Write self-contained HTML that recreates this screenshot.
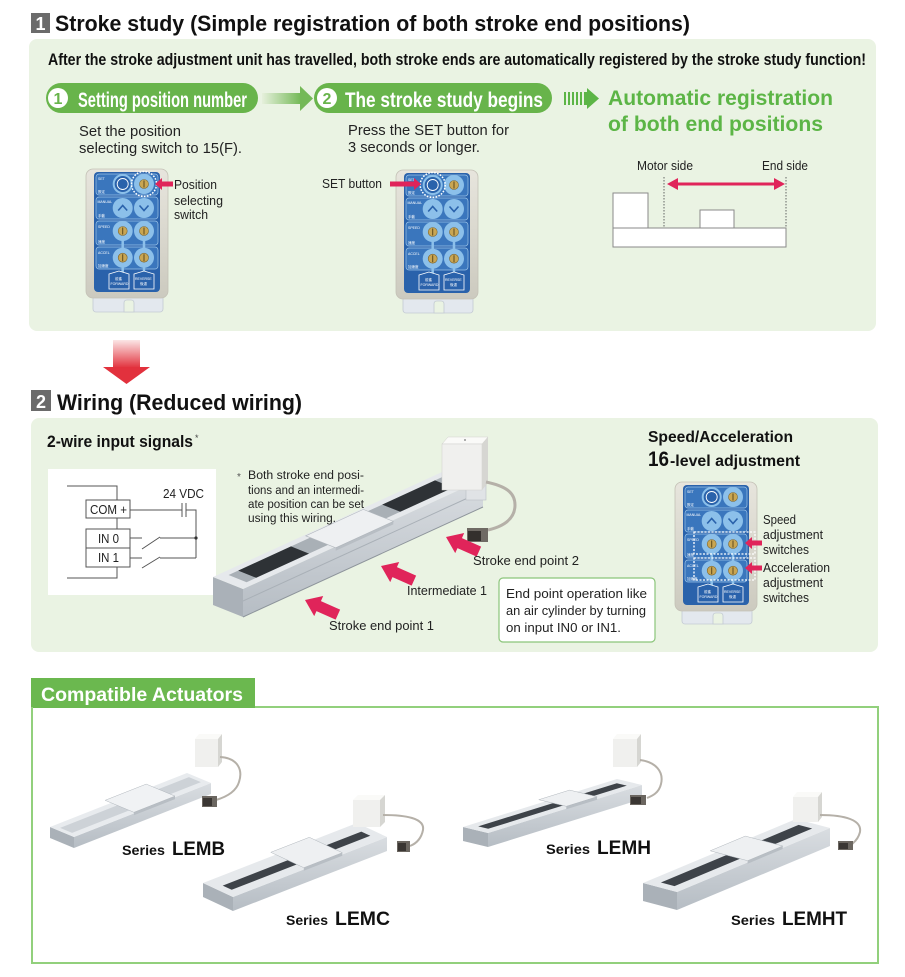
<!DOCTYPE html>
<html><head><meta charset="utf-8"><style>
html,body{margin:0;padding:0;background:#fff;}
svg{display:block;}
text{font-family:"Liberation Sans","Noto Sans CJK JP",Arial,sans-serif;}
</style></head><body>
<svg width="905" height="977" viewBox="0 0 905 977" xmlns="http://www.w3.org/2000/svg">
<defs>
<linearGradient id="bodyG" x1="0" y1="0" x2="0" y2="1"><stop offset="0" stop-color="#e7e5dd"/><stop offset="1" stop-color="#cccabf"/></linearGradient>
<linearGradient id="arrG" x1="0" y1="0" x2="1" y2="0"><stop offset="0" stop-color="#e6f0dc"/><stop offset="1" stop-color="#74b957"/></linearGradient>
<linearGradient id="downG" x1="0" y1="0" x2="0" y2="1"><stop offset="0" stop-color="#fbe6e6"/><stop offset="1" stop-color="#e2313d"/></linearGradient>
<linearGradient id="metF" x1="0" y1="0" x2="0" y2="1"><stop offset="0" stop-color="#d9dde1"/><stop offset="1" stop-color="#b6bdc4"/></linearGradient>
</defs>

<!-- ===== Section 1 ===== -->
<rect x="31" y="13" width="19" height="20" fill="#6b6b6b"/>
<text x="40.5" y="30" font-size="18" font-weight="bold" fill="#fff" text-anchor="middle">1</text>
<text x="55" y="31" font-size="22" font-weight="bold" fill="#111" textLength="635" lengthAdjust="spacingAndGlyphs">Stroke study (Simple registration of both stroke end positions)</text>

<rect x="29" y="39" width="847" height="292" rx="8" fill="#eaf3e3"/>
<text x="48" y="65" font-size="17" font-weight="bold" fill="#111" textLength="818" lengthAdjust="spacingAndGlyphs">After the stroke adjustment unit has travelled, both stroke ends are automatically registered by the stroke study function!</text>

<!-- pill 1 -->
<rect x="46" y="83" width="212" height="30" rx="15" fill="#68b44b"/>
<circle cx="58" cy="98" r="10" fill="#fff"/>
<text x="58" y="104" font-size="16" font-weight="bold" fill="#68b44b" text-anchor="middle">1</text>
<text x="78" y="107" font-size="21" font-weight="bold" fill="#fff" textLength="169" lengthAdjust="spacingAndGlyphs">Setting position number</text>
<rect x="262" y="93" width="39" height="11" fill="url(#arrG)"/>
<polygon points="300,86 313,98.5 300,111" fill="#74b957"/>
<!-- pill 2 -->
<rect x="314" y="83" width="238" height="30" rx="15" fill="#68b44b"/>
<circle cx="327" cy="98" r="10" fill="#fff"/>
<text x="327" y="104" font-size="16" font-weight="bold" fill="#68b44b" text-anchor="middle">2</text>
<text x="345" y="107" font-size="21" font-weight="bold" fill="#fff" textLength="198" lengthAdjust="spacingAndGlyphs">The stroke study begins</text>
<g fill="#5cb546">
<rect x="564" y="92" width="2" height="13"/><rect x="568" y="92" width="2" height="13"/><rect x="572" y="92" width="2" height="13"/><rect x="576" y="92" width="2" height="13"/><rect x="580" y="92" width="2" height="13"/><rect x="584" y="92" width="3" height="13"/>
<polygon points="587,88 599,98.5 587,109"/>
</g>
<text x="608" y="105" font-size="21" font-weight="bold" fill="#5cb546" textLength="225" lengthAdjust="spacingAndGlyphs">Automatic registration</text>
<text x="608" y="131" font-size="21" font-weight="bold" fill="#5cb546" textLength="215" lengthAdjust="spacingAndGlyphs">of both end positions</text>

<text x="79" y="136" font-size="15" fill="#222" textLength="102" lengthAdjust="spacingAndGlyphs">Set the position</text>
<text x="79" y="153" font-size="15" fill="#222" textLength="163" lengthAdjust="spacingAndGlyphs">selecting switch to 15(F).</text>
<text x="348" y="135" font-size="15" fill="#222" textLength="161" lengthAdjust="spacingAndGlyphs">Press the SET button for</text>
<text x="348" y="152" font-size="15" fill="#222" textLength="132" lengthAdjust="spacingAndGlyphs">3 seconds or longer.</text>

<!-- Controller 1 -->
<g transform="translate(85,168)">
 <rect x="8" y="124" width="70" height="20" rx="3" fill="#e3e8ee" stroke="#c3cad3" stroke-width="0.8"/>
 <path d="M39 144 V135 Q39 132 42 132 H46 Q49 132 49 135 V144 Z" fill="#eaf3e3" stroke="#c3cad3" stroke-width="0.8"/>
 <rect x="1" y="1" width="82" height="129" rx="7" fill="url(#bodyG)" stroke="#c4c1b6" stroke-width="0.8"/>
 <rect x="9" y="4" width="66" height="120" rx="4" fill="#2a62ab"/>
 <g fill="#3a76bd" stroke="#9cc4e8" stroke-width="0.7">
  <rect x="11" y="6" width="62" height="21" rx="3"/><rect x="11" y="29" width="62" height="22" rx="3"/><rect x="11" y="53" width="62" height="24" rx="3"/><rect x="11" y="79" width="62" height="22" rx="3"/>
 </g>
 <path d="M37.7 63 V110 M59 63 V110" stroke="#8cc0ea" stroke-width="2.5"/>
 <circle cx="37.7" cy="16" r="10" fill="#8cc0ea"/><circle cx="37.7" cy="16" r="8" fill="#2a62ab"/><circle cx="37.7" cy="16" r="5.5" fill="none" stroke="#fff" stroke-width="0.9"/>
 <g fill="#8cc0ea"><circle cx="59" cy="16" r="10"/><circle cx="37.7" cy="40" r="10"/><circle cx="59" cy="40" r="10"/><circle cx="37.7" cy="63" r="10"/><circle cx="59" cy="63" r="10"/><circle cx="37.7" cy="89.7" r="10"/><circle cx="59" cy="89.7" r="10"/></g>
 <g fill="#c9a653" stroke="#7d6631" stroke-width="0.6"><circle cx="59" cy="16" r="4.5"/><circle cx="37.7" cy="63" r="4.5"/><circle cx="59" cy="63" r="4.5"/><circle cx="37.7" cy="89.7" r="4.5"/><circle cx="59" cy="89.7" r="4.5"/></g>
 <path d="M59 12.5V19.5 M37.7 59.5V66.5 M59 59.5V66.5 M37.7 86.2V93.2 M59 86.2V93.2" stroke="#5e4a1c" stroke-width="1"/>
 <path d="M33.2 42.5 L37.7 37.5 L42.2 42.5 M54.5 37.5 L59 42.5 L63.5 37.5" stroke="#2a62ab" stroke-width="1.6" fill="none"/>
 <path d="M24 106 L34 103 L44 106 V121 H24 Z M49 106 L59 103 L69 106 V121 H49 Z" fill="#2a62ab" stroke="#fff" stroke-width="0.8"/>
 <g font-size="3.5" fill="#fff">
  <text x="13" y="12">SET</text><text x="13" y="25">設定</text><text x="12.5" y="35">MANUAL</text><text x="13" y="49">手動</text><text x="13" y="60">SPEED</text><text x="13" y="75">速度</text><text x="13" y="86">ACCEL</text><text x="13" y="99">加速度</text>
  <text x="30" y="112">前進</text><text x="25.5" y="117">FORWARD</text><text x="50" y="112">REVERSE</text><text x="55" y="117">後退</text>
 </g>
</g>
<circle cx="144" cy="184" r="12.5" fill="none" stroke="#fff" stroke-width="1.5" stroke-dasharray="1.6 1.4"/>
<polygon points="155,184 162,178 162,181.5 173,181.5 173,186.5 162,186.5 162,190" fill="#e0245a"/>
<text x="174" y="189" font-size="12.5" fill="#222" textLength="43" lengthAdjust="spacingAndGlyphs">Position</text>
<text x="174" y="205" font-size="12.5" fill="#222" textLength="49" lengthAdjust="spacingAndGlyphs">selecting</text>
<text x="174" y="219" font-size="12.5" fill="#222" textLength="34" lengthAdjust="spacingAndGlyphs">switch</text>

<!-- Controller 2 -->
<g transform="translate(395,169)">
 <rect x="8" y="124" width="70" height="20" rx="3" fill="#e3e8ee" stroke="#c3cad3" stroke-width="0.8"/>
 <path d="M39 144 V135 Q39 132 42 132 H46 Q49 132 49 135 V144 Z" fill="#eaf3e3" stroke="#c3cad3" stroke-width="0.8"/>
 <rect x="1" y="1" width="82" height="129" rx="7" fill="url(#bodyG)" stroke="#c4c1b6" stroke-width="0.8"/>
 <rect x="9" y="4" width="66" height="120" rx="4" fill="#2a62ab"/>
 <g fill="#3a76bd" stroke="#9cc4e8" stroke-width="0.7">
  <rect x="11" y="6" width="62" height="21" rx="3"/><rect x="11" y="29" width="62" height="22" rx="3"/><rect x="11" y="53" width="62" height="24" rx="3"/><rect x="11" y="79" width="62" height="22" rx="3"/>
 </g>
 <path d="M37.7 63 V110 M59 63 V110" stroke="#8cc0ea" stroke-width="2.5"/>
 <circle cx="37.7" cy="16" r="10" fill="#8cc0ea"/><circle cx="37.7" cy="16" r="8" fill="#2a62ab"/><circle cx="37.7" cy="16" r="5.5" fill="none" stroke="#fff" stroke-width="0.9"/>
 <g fill="#8cc0ea"><circle cx="59" cy="16" r="10"/><circle cx="37.7" cy="40" r="10"/><circle cx="59" cy="40" r="10"/><circle cx="37.7" cy="63" r="10"/><circle cx="59" cy="63" r="10"/><circle cx="37.7" cy="89.7" r="10"/><circle cx="59" cy="89.7" r="10"/></g>
 <g fill="#c9a653" stroke="#7d6631" stroke-width="0.6"><circle cx="59" cy="16" r="4.5"/><circle cx="37.7" cy="63" r="4.5"/><circle cx="59" cy="63" r="4.5"/><circle cx="37.7" cy="89.7" r="4.5"/><circle cx="59" cy="89.7" r="4.5"/></g>
 <path d="M59 12.5V19.5 M37.7 59.5V66.5 M59 59.5V66.5 M37.7 86.2V93.2 M59 86.2V93.2" stroke="#5e4a1c" stroke-width="1"/>
 <path d="M33.2 42.5 L37.7 37.5 L42.2 42.5 M54.5 37.5 L59 42.5 L63.5 37.5" stroke="#2a62ab" stroke-width="1.6" fill="none"/>
 <path d="M24 106 L34 103 L44 106 V121 H24 Z M49 106 L59 103 L69 106 V121 H49 Z" fill="#2a62ab" stroke="#fff" stroke-width="0.8"/>
 <g font-size="3.5" fill="#fff">
  <text x="13" y="12">SET</text><text x="13" y="25">設定</text><text x="12.5" y="35">MANUAL</text><text x="13" y="49">手動</text><text x="13" y="60">SPEED</text><text x="13" y="75">速度</text><text x="13" y="86">ACCEL</text><text x="13" y="99">加速度</text>
  <text x="30" y="112">前進</text><text x="25.5" y="117">FORWARD</text><text x="50" y="112">REVERSE</text><text x="55" y="117">後退</text>
 </g>
</g>
<circle cx="432.7" cy="185" r="12.5" fill="none" stroke="#fff" stroke-width="1.5" stroke-dasharray="1.6 1.4"/>
<polygon points="421,184 414,178 414,181.5 390,181.5 390,186.5 414,186.5 414,190" fill="#e0245a"/>
<text x="322" y="188" font-size="13" fill="#222" textLength="60" lengthAdjust="spacingAndGlyphs">SET button</text>

<!-- stroke diagram -->
<text x="637" y="170" font-size="12.5" fill="#222" textLength="56" lengthAdjust="spacingAndGlyphs">Motor side</text>
<text x="762" y="170" font-size="12.5" fill="#222" textLength="46" lengthAdjust="spacingAndGlyphs">End side</text>
<path d="M664 177 V228 M786 177 V228" stroke="#555" stroke-width="0.9" stroke-dasharray="1.5 1.5"/>
<line x1="674" y1="184" x2="778" y2="184" stroke="#e0245a" stroke-width="3"/>
<polygon points="667,184 678,178 678,190" fill="#e0245a"/>
<polygon points="785,184 774,178 774,190" fill="#e0245a"/>
<g fill="#fff" stroke="#8a8a8a" stroke-width="1">
<rect x="613" y="193" width="35" height="35"/>
<rect x="700" y="210" width="34" height="18"/>
<rect x="613" y="228" width="173" height="19"/>
</g>

<!-- big down arrow -->
<rect x="113" y="340" width="27" height="28" fill="url(#downG)"/>
<polygon points="103,367 150,367 126.5,384" fill="#e2313d"/>

<!-- ===== Section 2 ===== -->
<rect x="31" y="390" width="20" height="21" fill="#6b6b6b"/>
<text x="41" y="408" font-size="18" font-weight="bold" fill="#fff" text-anchor="middle">2</text>
<text x="57" y="410" font-size="22" font-weight="bold" fill="#111" textLength="245" lengthAdjust="spacingAndGlyphs">Wiring (Reduced wiring)</text>

<rect x="31" y="418" width="847" height="234" rx="8" fill="#eaf3e3"/>
<text x="47" y="447" font-size="17" font-weight="bold" fill="#111" textLength="146" lengthAdjust="spacingAndGlyphs">2-wire input signals</text>
<text x="195" y="441" font-size="9" fill="#444">*</text>

<rect x="48" y="469" width="168" height="126" fill="#fff"/>
<g stroke="#555" stroke-width="1" fill="none">
<path d="M67 486 H117 V500 M117 518 V529 M117 567 V578 H67"/>
<rect x="86" y="500" width="44" height="18" fill="#fff"/>
<rect x="86" y="529" width="44" height="19" fill="#fff"/>
<rect x="86" y="548" width="44" height="19" fill="#fff"/>
<path d="M130 510 H182 M182 503 V517 M186 503 V517 M186 510 H196 V558"/>
<path d="M130 538 H142 M142 549 L160 537 M160 538 H196"/>
<path d="M130 558 H142 M142 568 L160 557 M160 558 H196"/>
</g>
<circle cx="196" cy="538" r="1.6" fill="#333"/>
<text x="90" y="514" font-size="13" fill="#222" textLength="37" lengthAdjust="spacingAndGlyphs">COM +</text>
<text x="98" y="543" font-size="13" fill="#222" textLength="21" lengthAdjust="spacingAndGlyphs">IN 0</text>
<text x="98" y="562" font-size="13" fill="#222" textLength="21" lengthAdjust="spacingAndGlyphs">IN 1</text>
<text x="163" y="498" font-size="13" fill="#222" textLength="41" lengthAdjust="spacingAndGlyphs">24 VDC</text>

<!-- big actuator -->
<g>
<path d="M213 577 L243 589 L243 617 L213 605 Z" fill="#aab1b8"/>
<path d="M243 589 L483 479 L483 507 L243 617 Z" fill="url(#metF)"/>
<path d="M213 577 L453 467 L483 479 L243 589 Z" fill="#e6e9ec"/>
<path d="M246.6 582.2 L467.4 481 L449.4 473.8 L228.6 575 Z" fill="#a9b0b6"/>
<path d="M256.2 577.8 L309 553.6 L291 546.4 L238.2 570.6 Z" fill="#2e3236"/>
<path d="M400.2 511.8 L453 487.6 L435 480.4 L382.2 504.6 Z" fill="#2e3236"/>
<path d="M335.7 547.8 L393.3 521.4 L393.3 524.4 L335.7 550.8 Z" fill="#b8bec4"/>
<path d="M335.7 547.8 L393.3 521.4 L363.3 509.4 L305.7 535.8 Z" fill="#eef0f2" stroke="#b0b6bc" stroke-width="0.6"/>
<path d="M243 601 L483 491" stroke="#a9b0b7" stroke-width="1"/>
<path d="M243 617 L483 507" stroke="#8d949b" stroke-width="1"/>
<rect x="466" y="484" width="20" height="16" fill="#e0e3e6" stroke="#b9bec3" stroke-width="0.6"/>
<path d="M442 444 L448 437 L488 437 L482 444 Z" fill="#fafaf8" stroke="#d0d0cc" stroke-width="0.5"/>
<rect x="442" y="444" width="40" height="46" fill="#f0f0ee" stroke="#d0d0cc" stroke-width="0.5"/>
<path d="M482 444 L488 437 L488 483 L482 490 Z" fill="#d6d6d2"/>
<circle cx="465" cy="440" r="0.9" fill="#777"/>
<path d="M486 482 C505 486 515 492 515 505 C515 518 505 526 488 530" stroke="#b5b0a8" stroke-width="3" fill="none"/>
<rect x="467" y="528" width="21" height="14" fill="#6f6a64"/>
<rect x="468" y="531" width="13" height="10" fill="#34302d"/>
</g>

<text x="237" y="480" font-size="10" fill="#555">*</text>
<text x="248" y="479" font-size="11.5" fill="#222" textLength="116" lengthAdjust="spacingAndGlyphs">Both stroke end posi-</text>
<text x="248" y="494" font-size="11.5" fill="#222" textLength="116" lengthAdjust="spacingAndGlyphs">tions and an intermedi-</text>
<text x="248" y="508" font-size="11.5" fill="#222" textLength="116" lengthAdjust="spacingAndGlyphs">ate position can be set</text>
<text x="248" y="522" font-size="11.5" fill="#222" textLength="88" lengthAdjust="spacingAndGlyphs">using this wiring.</text>

<g fill="#e0245a">
<path transform="translate(305,600) rotate(24)" d="M0 0 L15 -11 L15 -5.5 L36 -5.5 L36 5.5 L15 5.5 L15 11 Z"/>
<path transform="translate(381,566) rotate(24)" d="M0 0 L15 -11 L15 -5.5 L36 -5.5 L36 5.5 L15 5.5 L15 11 Z"/>
<path transform="translate(446,537) rotate(24)" d="M0 0 L15 -11 L15 -5.5 L36 -5.5 L36 5.5 L15 5.5 L15 11 Z"/>
</g>
<text x="473" y="565" font-size="13" fill="#222" textLength="106" lengthAdjust="spacingAndGlyphs">Stroke end point 2</text>
<text x="407" y="595" font-size="13" fill="#222" textLength="80" lengthAdjust="spacingAndGlyphs">Intermediate 1</text>
<text x="329" y="630" font-size="13" fill="#222" textLength="105" lengthAdjust="spacingAndGlyphs">Stroke end point 1</text>

<rect x="499" y="578" width="156" height="64" rx="4" fill="#fff" stroke="#8bc57a" stroke-width="1.2"/>
<text x="506" y="598" font-size="13" fill="#222" textLength="141" lengthAdjust="spacingAndGlyphs">End point operation like</text>
<text x="506" y="615" font-size="13" fill="#222" textLength="140" lengthAdjust="spacingAndGlyphs">an air cylinder by turning</text>
<text x="506" y="632" font-size="13" fill="#222" textLength="115" lengthAdjust="spacingAndGlyphs">on input IN0 or IN1.</text>

<text x="648" y="442" font-size="15.5" font-weight="bold" fill="#111" textLength="145" lengthAdjust="spacingAndGlyphs">Speed/Acceleration</text>
<text x="648" y="466" font-size="21" font-weight="bold" fill="#111" textLength="21" lengthAdjust="spacingAndGlyphs">16</text>
<text x="670" y="466" font-size="16" font-weight="bold" fill="#111" textLength="130" lengthAdjust="spacingAndGlyphs">-level adjustment</text>

<!-- Controller 3 -->
<g transform="translate(674,481)">
 <rect x="8" y="124" width="70" height="19" rx="3" fill="#e3e8ee" stroke="#c3cad3" stroke-width="0.8"/>
 <path d="M39 143 V135 Q39 132 42 132 H46 Q49 132 49 135 V143 Z" fill="#eaf3e3" stroke="#c3cad3" stroke-width="0.8"/>
 <rect x="1" y="1" width="82" height="129" rx="7" fill="url(#bodyG)" stroke="#c4c1b6" stroke-width="0.8"/>
 <rect x="9" y="4" width="66" height="120" rx="4" fill="#2a62ab"/>
 <g fill="#3a76bd" stroke="#9cc4e8" stroke-width="0.7">
  <rect x="11" y="6" width="62" height="21" rx="3"/><rect x="11" y="29" width="62" height="22" rx="3"/><rect x="11" y="53" width="62" height="24" rx="3"/><rect x="11" y="79" width="62" height="22" rx="3"/>
 </g>
 <path d="M37.7 63 V110 M59 63 V110" stroke="#8cc0ea" stroke-width="2.5"/>
 <circle cx="37.7" cy="16" r="10" fill="#8cc0ea"/><circle cx="37.7" cy="16" r="8" fill="#2a62ab"/><circle cx="37.7" cy="16" r="5.5" fill="none" stroke="#fff" stroke-width="0.9"/>
 <g fill="#8cc0ea"><circle cx="59" cy="16" r="10"/><circle cx="37.7" cy="40" r="10"/><circle cx="59" cy="40" r="10"/><circle cx="37.7" cy="63" r="10"/><circle cx="59" cy="63" r="10"/><circle cx="37.7" cy="89.7" r="10"/><circle cx="59" cy="89.7" r="10"/></g>
 <g fill="#c9a653" stroke="#7d6631" stroke-width="0.6"><circle cx="59" cy="16" r="4.5"/><circle cx="37.7" cy="63" r="4.5"/><circle cx="59" cy="63" r="4.5"/><circle cx="37.7" cy="89.7" r="4.5"/><circle cx="59" cy="89.7" r="4.5"/></g>
 <path d="M59 12.5V19.5 M37.7 59.5V66.5 M59 59.5V66.5 M37.7 86.2V93.2 M59 86.2V93.2" stroke="#5e4a1c" stroke-width="1"/>
 <path d="M33.2 42.5 L37.7 37.5 L42.2 42.5 M54.5 37.5 L59 42.5 L63.5 37.5" stroke="#2a62ab" stroke-width="1.6" fill="none"/>
 <path d="M24 106 L34 103 L44 106 V121 H24 Z M49 106 L59 103 L69 106 V121 H49 Z" fill="#2a62ab" stroke="#fff" stroke-width="0.8"/>
 <g font-size="3.5" fill="#fff">
  <text x="13" y="12">SET</text><text x="13" y="25">設定</text><text x="12.5" y="35">MANUAL</text><text x="13" y="49">手動</text><text x="13" y="60">SPEED</text><text x="13" y="75">速度</text><text x="13" y="86">ACCEL</text><text x="13" y="99">加速度</text>
  <text x="30" y="112">前進</text><text x="25.5" y="117">FORWARD</text><text x="50" y="112">REVERSE</text><text x="55" y="117">後退</text>
 </g>
</g>
<g fill="none" stroke="#fff" stroke-width="1.3" stroke-dasharray="2 1.5">
<rect x="694" y="532" width="61" height="22"/>
<rect x="694" y="558" width="61" height="22"/>
</g>
<polygon points="745,543 752,537 752,540.5 762,540.5 762,545.5 752,545.5 752,549" fill="#e0245a"/>
<polygon points="745,568 752,562 752,565.5 762,565.5 762,570.5 752,570.5 752,574" fill="#e0245a"/>
<text x="763" y="524" font-size="12.5" fill="#222" textLength="33" lengthAdjust="spacingAndGlyphs">Speed</text>
<text x="763" y="539" font-size="12.5" fill="#222" textLength="60" lengthAdjust="spacingAndGlyphs">adjustment</text>
<text x="763" y="554" font-size="12.5" fill="#222" textLength="46" lengthAdjust="spacingAndGlyphs">switches</text>
<text x="763" y="572" font-size="12.5" fill="#222" textLength="67" lengthAdjust="spacingAndGlyphs">Acceleration</text>
<text x="763" y="587" font-size="12.5" fill="#222" textLength="60" lengthAdjust="spacingAndGlyphs">adjustment</text>
<text x="763" y="602" font-size="12.5" fill="#222" textLength="46" lengthAdjust="spacingAndGlyphs">switches</text>

<!-- ===== Compatible Actuators ===== -->
<rect x="31" y="678" width="224" height="30" fill="#6bb84f"/>
<text x="41" y="701" font-size="19.5" font-weight="bold" fill="#fff" textLength="202" lengthAdjust="spacingAndGlyphs">Compatible Actuators</text>
<path d="M32 707 V963 H878 V707 H255" fill="none" stroke="#92d07c" stroke-width="2"/>

<!-- LEMB -->
<g>
<path d="M50 827 L74 837 L74 848 L50 838 Z" fill="#aab1b8"/>
<path d="M74 837 L211 783 L211 794 L74 848 Z" fill="url(#metF)"/>
<path d="M50 827 L187 773 L211 783 L74 837 Z" fill="#e8ebee"/>
<path d="M72.1 832.9 L200.9 782.1 L188.9 777.1 L60.1 827.9 Z" fill="#cdd2d7"/>
<path d="M133.9 812.3 L175 796.1 L175 799.1 L133.9 815.3 Z" fill="#b8bec4"/>
<path d="M133.9 812.3 L175 796.1 L146.2 784.1 L105.1 800.3 Z" fill="#f0f2f4" stroke="#b0b6bc" stroke-width="0.5"/>
<path d="M195 739 L199 734 L222 734 L218 739 Z" fill="#fafaf8"/>
<rect x="195" y="739" width="23" height="28" fill="#f0f0ee"/>
<path d="M218 739 L222 734 L222 762 L218 767 Z" fill="#d6d6d2"/>
<path d="M220 757 C238 758 243 770 239 782 C236 792 226 797 216 800" stroke="#b5b0a8" stroke-width="2" fill="none"/>
<rect x="202" y="796" width="15" height="11" fill="#6b6660"/><rect x="203" y="798" width="9" height="8" fill="#3a3633"/>
</g>
<!-- LEMC -->
<g>
<path d="M203 883 L233 897 L233 911 L203 897 Z" fill="#aab1b8"/>
<path d="M233 897 L387 837 L387 851 L233 911 Z" fill="url(#metF)"/>
<path d="M203 883 L357 823 L387 837 L233 897 Z" fill="#e6e9ec"/>
<path d="M231.7 889.8 L370.3 835.8 L361.3 831.6 L222.7 885.6 Z" fill="#3e4349"/>
<path d="M303.8 867.7 L342.3 852.7 L342.3 855.7 L303.8 870.7 Z" fill="#b8bec4"/>
<path d="M303.8 867.7 L342.3 852.7 L309.3 837.3 L270.8 852.3 Z" fill="#eef0f2" stroke="#b0b6bc" stroke-width="0.5"/>
<path d="M353 800 L358 795 L385 795 L380 800 Z" fill="#fafaf8"/>
<rect x="353" y="800" width="27" height="27" fill="#f0f0ee"/>
<path d="M380 800 L385 795 L385 822 L380 827 Z" fill="#d6d6d2"/>
<path d="M383 815 C405 815 425 818 423 830 C421 840 415 844 410 846" stroke="#b5b0a8" stroke-width="2" fill="none"/>
<rect x="397" y="841" width="13" height="11" fill="#6b6660"/><rect x="398" y="843" width="8" height="8" fill="#3a3633"/>
</g>
<!-- LEMH -->
<g>
<path d="M463 827 L488 833 L488 847 L463 841 Z" fill="#aab1b8"/>
<path d="M488 833 L642 785 L642 799 L488 847 Z" fill="url(#metF)"/>
<path d="M463 827 L617 779 L642 785 L488 833 Z" fill="#e6e9ec"/>
<path d="M488.2 828.8 L626.8 785.6 L616.8 783.2 L478.2 826.4 Z" fill="#3e4349"/>
<path d="M566.3 806.3 L597.1 796.7 L597.1 799.7 L566.3 809.3 Z" fill="#b8bec4"/>
<path d="M566.3 806.3 L597.1 796.7 L569.6 790.1 L538.8 799.7 Z" fill="#eef0f2" stroke="#b0b6bc" stroke-width="0.5"/>
<path d="M613 739 L617 734 L641 734 L637 739 Z" fill="#fafaf8"/>
<rect x="613" y="739" width="24" height="28" fill="#f0f0ee"/>
<path d="M637 739 L641 734 L641 762 L637 767 Z" fill="#d6d6d2"/>
<path d="M640 760 C656 762 664 772 661 784 C659 793 652 796 647 798" stroke="#b5b0a8" stroke-width="2" fill="none"/>
<rect x="630" y="795" width="16" height="10" fill="#6b6660"/><rect x="631" y="797" width="10" height="7" fill="#3a3633"/>
</g>
<!-- LEMHT -->
<g>
<path d="M643 883 L677 892 L677 910 L643 901 Z" fill="#aab1b8"/>
<path d="M677 892 L830 828 L830 846 L677 910 Z" fill="url(#metF)"/>
<path d="M643 883 L796 819 L830 828 L677 892 Z" fill="#e6e9ec"/>
<path d="M674.5 886.1 L812.2 828.5 L798.6 824.9 L660.9 882.5 Z" fill="#3e4349"/>
<path d="M747.6 860.7 L782.7 846 L782.7 849 L747.6 863.7 Z" fill="#b8bec4"/>
<path d="M747.6 860.7 L782.7 846 L745.3 836.1 L710.2 850.8 Z" fill="#eef0f2" stroke="#b0b6bc" stroke-width="0.5"/>
<path d="M793 797 L797 792 L822 792 L818 797 Z" fill="#fafaf8"/>
<rect x="793" y="797" width="25" height="25" fill="#f0f0ee"/>
<path d="M818 797 L822 792 L822 817 L818 822 Z" fill="#d6d6d2"/>
<path d="M820 815 C845 815 862 820 860 832 C858 840 853 843 852 844" stroke="#b5b0a8" stroke-width="2" fill="none"/>
<rect x="838" y="841" width="15" height="9" fill="#6b6660"/><rect x="839" y="843" width="9" height="6" fill="#3a3633"/>
</g>

<text x="122" y="855" font-size="14" font-weight="bold" fill="#111" textLength="43" lengthAdjust="spacingAndGlyphs">Series</text>
<text x="172" y="855" font-size="19" font-weight="bold" fill="#111" textLength="53" lengthAdjust="spacingAndGlyphs">LEMB</text>
<text x="286" y="925" font-size="14" font-weight="bold" fill="#111" textLength="42" lengthAdjust="spacingAndGlyphs">Series</text>
<text x="335" y="925" font-size="19" font-weight="bold" fill="#111" textLength="55" lengthAdjust="spacingAndGlyphs">LEMC</text>
<text x="546" y="854" font-size="14" font-weight="bold" fill="#111" textLength="44" lengthAdjust="spacingAndGlyphs">Series</text>
<text x="597" y="854" font-size="19" font-weight="bold" fill="#111" textLength="54" lengthAdjust="spacingAndGlyphs">LEMH</text>
<text x="731" y="925" font-size="14" font-weight="bold" fill="#111" textLength="44" lengthAdjust="spacingAndGlyphs">Series</text>
<text x="782" y="925" font-size="19" font-weight="bold" fill="#111" textLength="65" lengthAdjust="spacingAndGlyphs">LEMHT</text>
</svg>
</body></html>
